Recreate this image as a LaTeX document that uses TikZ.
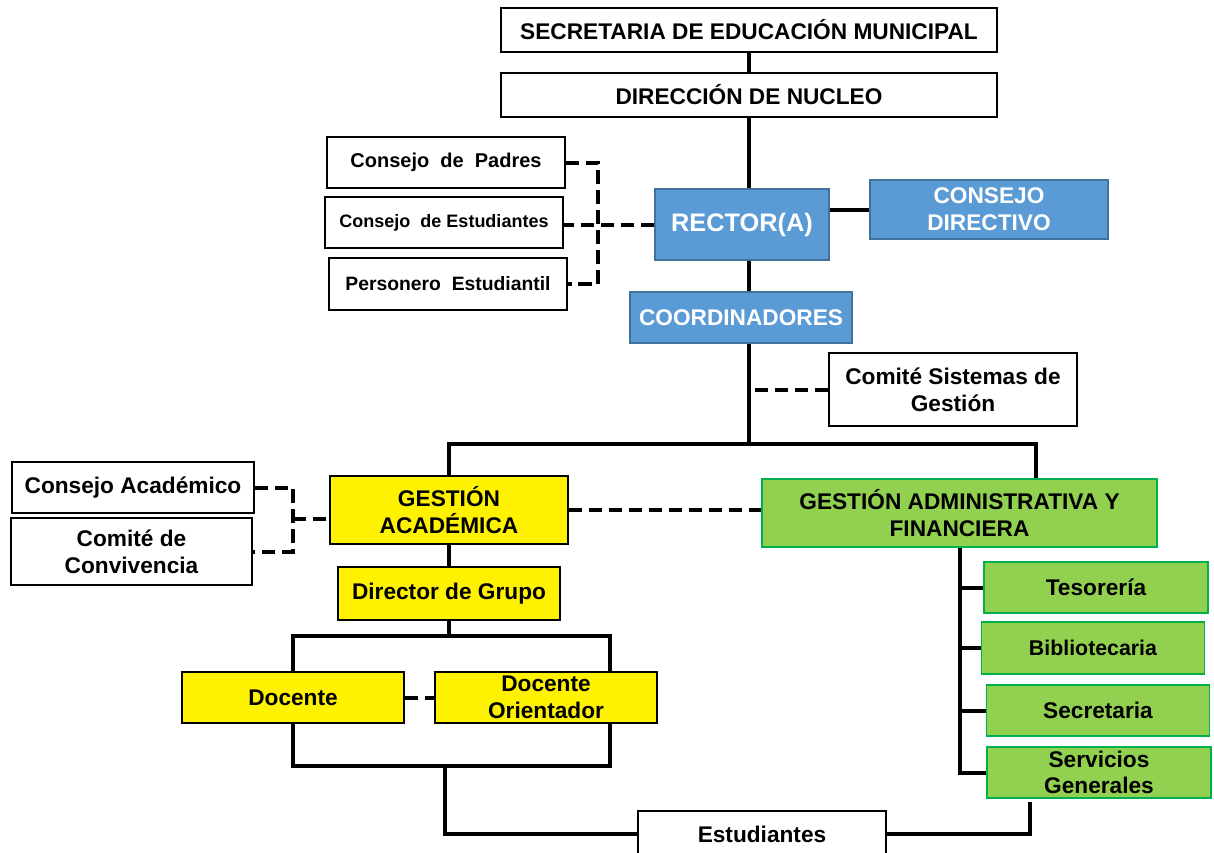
\documentclass[tikz,border=0pt]{standalone}
\usepackage{fontspec}
\setmainfont{Liberation Sans}
\usetikzlibrary{backgrounds}
\definecolor{azul}{HTML}{5B9BD5}
\definecolor{azulb}{HTML}{41719C}
\definecolor{verde}{HTML}{92D050}
\definecolor{verdeb}{HTML}{00B050}
\begin{document}
\begin{tikzpicture}[x=0.75pt,y=-0.75pt,
  caja/.style={draw,line width=1.2pt,fill=white,align=center,inner sep=0pt,
    font=\fontsize{17}{20}\selectfont\bfseries},
  azulcaja/.style={caja,draw=azulb,fill=azul,text=white},
  amarilla/.style={caja,fill=yellow},
  verdecaja/.style={caja,draw=verdeb,fill=verde},
  linea/.style={line width=3pt},
  punteada/.style={line width=3pt,dash pattern=on 10pt off 5pt}]
\useasboundingbox (0,0) rectangle (1214,853);
\node[caja,minimum width=372pt,minimum height=33pt] (sem) at (749,30) {SECRETARIA DE EDUCACIÓN MUNICIPAL};
\node[caja,minimum width=372pt,minimum height=33pt] (dn) at (749,95) {DIRECCIÓN DE NUCLEO};
\node[azulcaja,minimum width=130.5pt,minimum height=53.25pt,font=\fontsize{19}{22}\selectfont\bfseries] (rector) at (742,224.5) {RECTOR(A)};
\node[azulcaja,minimum width=178.5pt,minimum height=44.25pt] (cdir) at (989,209.5) {CONSEJO\\DIRECTIVO};
\node[azulcaja,minimum width=166.5pt,minimum height=38.25pt] (coord) at (741,317.5) {COORDINADORES};
\node[caja,minimum width=178.5pt,minimum height=38.25pt,font=\fontsize{15}{18}\selectfont\bfseries] (cpad) at (446,162.5) {Consejo\ \ de\ \ Padres};
\node[caja,minimum width=178.5pt,minimum height=38.25pt,font=\fontsize{13.5}{16}\selectfont\bfseries] (cest) at (444,222.5) {Consejo\ \ de\ Estudiantes};
\node[caja,minimum width=178.5pt,minimum height=39pt,font=\fontsize{14.5}{17}\selectfont\bfseries] (pers) at (448,284) {Personero\ \ Estudiantil};
\node[caja,minimum width=186pt,minimum height=54.75pt] (csg) at (953,389.5) {Comité Sistemas de\\Gestión};
\node[amarilla,minimum width=178.5pt,minimum height=51pt] (gac) at (449,510) {GESTIÓN\\ACADÉMICA};
\node[verdecaja,minimum width=296.25pt,minimum height=51pt] (gaf) at (959.5,513) {GESTIÓN ADMINISTRATIVA Y\\FINANCIERA};
\node[caja,minimum width=181.5pt,minimum height=38.25pt] (cac) at (133,487.5) {Consejo Académico};
\node[caja,minimum width=180.75pt,minimum height=50.25pt] (cconv) at (131.5,551.5) {Comité de\\Convivencia};
\node[amarilla,minimum width=166.5pt,minimum height=39.75pt] (ddg) at (449,593.5) {Director de Grupo};
\node[amarilla,minimum width=166.5pt,minimum height=38.25pt] (doc) at (293,697.5) {Docente};
\node[amarilla,minimum width=166.5pt,minimum height=38.25pt] (dor) at (546,697.5) {Docente\\Orientador};
\node[caja,minimum width=186pt,minimum height=34.5pt] (est) at (762,834) {Estudiantes};
\node[verdecaja,minimum width=168pt,minimum height=38.25pt] (tes) at (1096,587.5) {Tesorería};
\node[verdecaja,minimum width=167.25pt,minimum height=39pt,font=\fontsize{16}{19}\selectfont\bfseries] (bib) at (1093,648) {Bibliotecaria};
\node[verdecaja,minimum width=167.25pt,minimum height=38.25pt] (sec) at (1098,710.5) {Secretaria};
\node[verdecaja,minimum width=168pt,minimum height=38.25pt] (sgen) at (1099,772.5) {Servicios\\Generales};
\coordinate (j1) at (749,444);
\coordinate (j2) at (1036,444);
\coordinate (b1) at (598,222);
\coordinate (b2) at (293,519);
\coordinate (j3) at (449,636);
\coordinate (j5) at (610,636);
\coordinate (j4) at (445,766);
\coordinate (j8) at (610,766);
\coordinate (j6) at (1030,802);
\begin{scope}[on background layer]
\draw[linea] (sem) -- (dn);
\draw[linea] (dn.south) -- (j1);
\draw[linea] (cdir.west) -- (cdir.west -| rector.east);
\draw[linea] (gac.north) |- (j1) -- (j2) -- (j2 |- gaf.north);
\draw[linea] (gac.south) -- (ddg.north);
\draw[linea] (ddg.south) -- (j3);
\draw[linea] (doc.north) |- (j5) -- (j5 |- dor.north);
\draw[linea] (doc.south) |- (j8) -- (j8 |- dor.south);
\draw[linea] (j4) |- (est.west);
\draw[linea] (est.east) -| (j6);
\draw[linea] (gaf.south) |- (sgen.west);
\foreach \n in {tes,bib,sec}
  \draw[linea] (gaf.south |- \n.west) -- (\n.west);
\draw[punteada] (cpad.east) -| (b1) |- (pers.east);
\draw[punteada] (rector.west) -- (rector.west -| cest.east);
\draw[punteada] (csg.west) -- (csg.west -| j1);
\draw[punteada] (gac.east) -- (gac.east -| gaf.west);
\draw[punteada] (cac.east) -| (b2) |- (cconv.east);
\draw[punteada] (b2) -- (b2 -| gac.west);
\draw[punteada] (doc) -- (dor);
\end{scope}
\end{tikzpicture}
\end{document}
